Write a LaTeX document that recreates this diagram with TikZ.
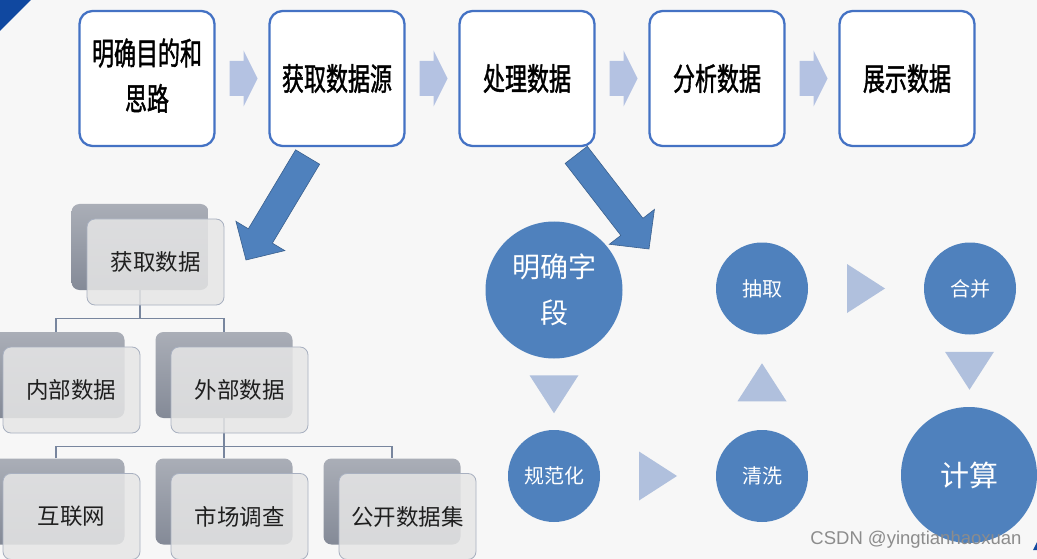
\documentclass[tikz,border=0pt]{standalone}
\usepackage{fontspec}
\usepackage{graphicx}
\newfontfamily\cjk{Noto Sans CJK SC}
\newfontfamily\cjkbold[FakeBold=1.6]{Noto Sans CJK SC}
\newfontfamily\wm{Liberation Sans}
\usetikzlibrary{calc}
\definecolor{bg}{RGB}{247,247,247}
\definecolor{boxblue}{RGB}{68,114,196}
\definecolor{chev}{RGB}{180,194,226}
\definecolor{circblue}{RGB}{79,129,189}
\definecolor{arrowblue}{RGB}{79,129,189}
\definecolor{arrowedge}{RGB}{58,96,142}
\definecolor{trifill}{RGB}{176,192,221}
\definecolor{backtop}{RGB}{170,174,183}
\definecolor{backbot}{RGB}{132,138,151}
\definecolor{frontfill}{RGB}{230,230,230}
\definecolor{frontedge}{RGB}{168,176,192}
\definecolor{connc}{RGB}{120,134,158}
\definecolor{cornerblue}{RGB}{16,72,160}
\definecolor{wmgray}{RGB}{140,140,140}
\begin{document}
\begin{tikzpicture}[x=1pt,y=-1pt,
  topbox/.style={draw=boxblue, line width=2.3pt, fill=white, rounded corners=13pt,
    minimum width=135pt, minimum height=135pt, inner sep=0pt,
    font=\cjkbold\fontsize{22}{32}\selectfont, text=black},
  backbox/.style={rounded corners=8pt, minimum width=137pt, minimum height=86pt,
    top color=backtop, bottom color=backbot, draw=none, inner sep=0pt},
  frontbox/.style={rounded corners=8pt, minimum width=137pt, minimum height=86pt,
    fill=frontfill, fill opacity=0.86, text opacity=1, draw=frontedge, line width=0.8pt,
    inner sep=0pt, font=\cjk\fontsize{22.5}{27}\selectfont, text=black!88},
  bigcirc/.style={circle, fill=circblue, text=white, inner sep=0pt, align=center},
  smallcirc/.style={circle, fill=circblue, text=white, inner sep=0pt, minimum size=92pt,
    font=\cjk\fontsize{20}{24}\selectfont},
  conn/.style={draw=connc, line width=1.2pt},
  chevron/.pic={\fill[chev] (-14,-17.5) -- (0,-17.5) -- (0,-28) -- (14,0) -- (0,28) -- (0,17.5) -- (-14,17.5) -- cycle;},
  flowtri/.pic={\fill[trifill] (-19,-24.5) -- (19,0) -- (-19,24.5) -- cycle;},
  blockarrow/.pic={\filldraw[fill=arrowblue, draw=arrowedge, line width=0.6pt]
    (0,0) -- (-28,-28.5) -- (-28,-14) -- (-#1,-14) -- (-#1,14) -- (-28,14) -- (-28,28.5) -- cycle;}
]
\useasboundingbox (0,0) rectangle (1037,559);
\begin{scope}
\clip (0,0) rectangle (1037,559);
\fill[bg] (0,0) rectangle (1037,559);
\fill[cornerblue] (0,0) -- (31,0) -- (0,31) -- cycle;
\fill[cornerblue] (1037,542) -- (1037,550) -- (1033,550) -- cycle;

% top process boxes
\node[topbox] (t1) at (147,78.5) {\scalebox{1}[1.42]{\begin{tabular}{@{}c@{}}明确目的和\\思路\end{tabular}}};
\node[topbox] (t2) at (337,78.5) {\scalebox{1}[1.42]{获取数据源}};
\node[topbox] (t3) at (527,78.5) {\scalebox{1}[1.42]{处理数据}};
\node[topbox] (t4) at (717,78.5) {\scalebox{1}[1.42]{分析数据}};
\node[topbox] (t5) at (907,78.5) {\scalebox{1}[1.42]{展示数据}};
\pic at ($(t1.east)!0.5!(t2.west)+(1.5,0)$) {chevron};
\pic at ($(t2.east)!0.5!(t3.west)+(1.5,0)$) {chevron};
\pic at ($(t3.east)!0.5!(t4.west)+(1.5,0)$) {chevron};
\pic at ($(t4.east)!0.5!(t5.west)+(1.5,0)$) {chevron};

% tree
\node[backbox] (gb) at (140,247) {};
\node[backbox] (nb) at (56,375) {};
\node[backbox] (wb) at (224,375) {};
\node[backbox] (hb) at (56,501.5) {};
\node[backbox] (sb) at (224,501.5) {};
\node[backbox] (pb) at (392,501.5) {};
\draw[conn] (gb.south) -- ++(0,28) coordinate (j1);
\draw[conn] (nb.north) |- (j1) -| (wb.north);
\draw[conn] (wb.south) -- ++(0,28) coordinate (j2);
\draw[conn] (hb.north) |- (j2) -| (pb.north);
\draw[conn] (j2) -- (sb.north);
\node[frontbox] (gf) at ($(gb)+(15.5,15)$) {获取数据};
\node[frontbox] (nf) at ($(nb)+(15.5,15)$) {内部数据};
\node[frontbox] (wf) at ($(wb)+(15.5,15)$) {外部数据};
\node[frontbox] (hf) at ($(hb)+(15.5,15)$) {互联网};
\node[frontbox] (sf) at ($(sb)+(15.5,15)$) {市场调查};
\node[frontbox] (pf) at ($(pb)+(15.5,15)$) {公开数据集};

% circles
\node[bigcirc, minimum size=137pt, font=\cjk\fontsize{28}{46}\selectfont] (c1) at (554,290) {明确字\\段};
\node[smallcirc] (c2) at (554,476) {规范化};
\node[smallcirc] (c3) at (762,476) {清洗};
\node[smallcirc] (c4) at (762,288.5) {抽取};
\node[smallcirc] (c5) at (970,288.5) {合并};
\node[bigcirc, minimum size=136pt, font=\cjk\fontsize{29}{34}\selectfont] (c6) at (969,475) {计算};
\pic[rotate=-90] at ($(c1.south)!0.5!(c2.north)$) {flowtri};
\pic at ($(c2.east)!0.5!(c3.west)$) {flowtri};
\pic[rotate=90] at ($(c3.north)!0.5!(c4.south)$) {flowtri};
\pic at ($(c4.east)!0.5!(c5.west)$) {flowtri};
\pic[rotate=-90] at ($(c5.south)!0.5!(c6.north)$) {flowtri};

% big block arrows
\coordinate (a1tip) at (246,260);
\coordinate (a2tip) at (649,249);
\pic[rotate=-120.9] at (a1tip) {blockarrow=120};
\pic[rotate=-52.3] at (a2tip) {blockarrow=119};

% watermark
\node[font=\wm\fontsize{18.5}{20}\selectfont, text=wmgray, inner sep=0pt] (wm) at (916,539.5) {CSDN @yingtianhaoxuan};
\end{scope}
\end{tikzpicture}
\end{document}
